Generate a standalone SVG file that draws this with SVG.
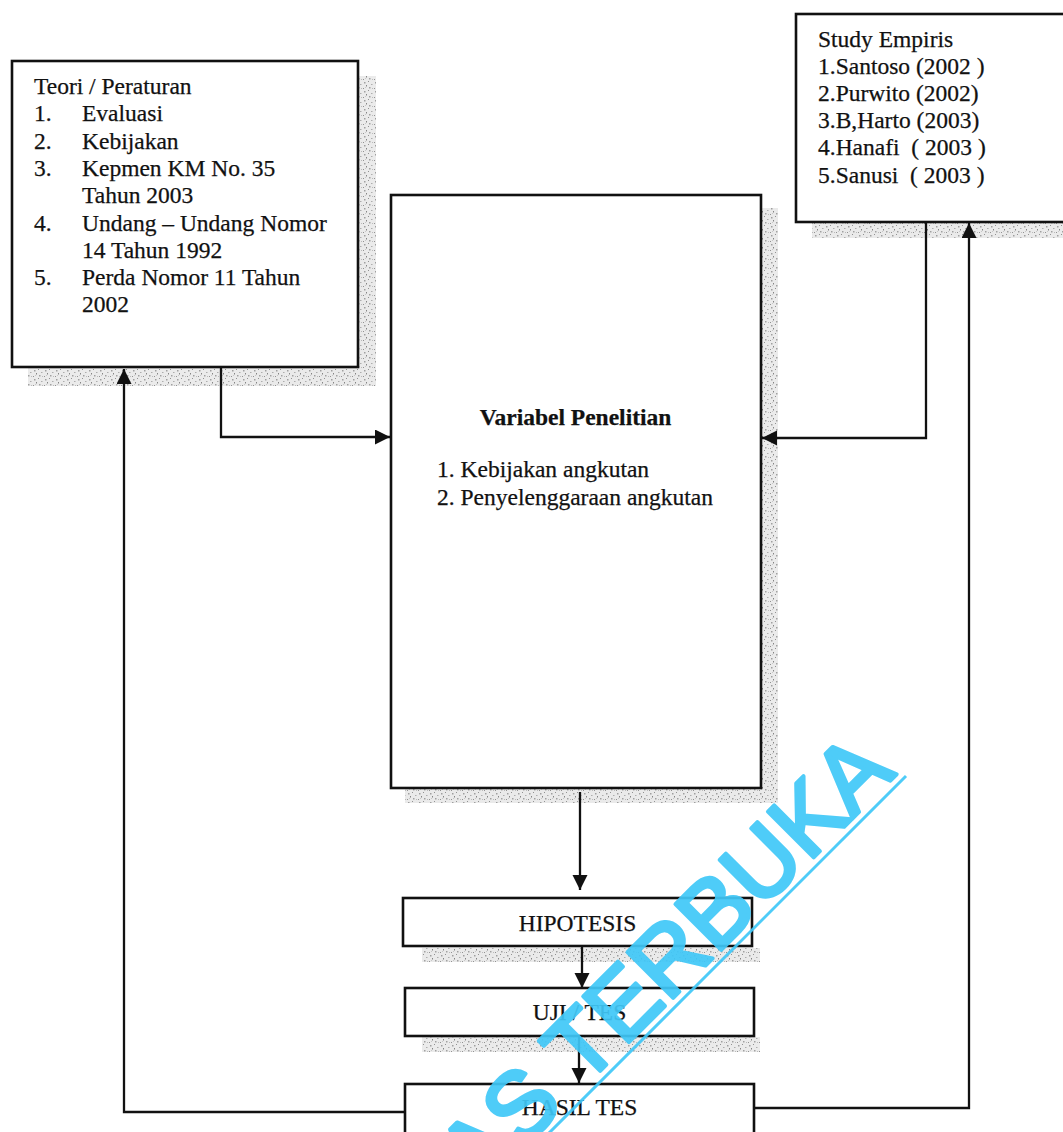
<svg xmlns="http://www.w3.org/2000/svg" width="1063" height="1132" viewBox="0 0 1063 1132">
<style>
.box{fill:#fff;stroke:#111;stroke-width:2.6}
.t{font-family:"Liberation Serif","Times New Roman",serif;font-size:23.5px;fill:#111;stroke:#111;stroke-width:0.25}
.b{font-weight:bold}
.c{text-anchor:middle}
.conn{fill:none;stroke:#111;stroke-width:2.3}
.shadow{fill:url(#speck)}
.wm{font-family:"Liberation Sans",Arial,sans-serif;font-size:94px;fill:#40C8F8;stroke:#40C8F8;stroke-width:4;stroke-linejoin:round}
</style>
<defs>
<pattern id="speck" width="11" height="9" patternUnits="userSpaceOnUse">
<rect width="11" height="9" fill="#e6e6e6"/>
<rect x="1" y="1" width="1.5" height="1.5" fill="#888"/>
<rect x="5" y="0" width="1" height="1" fill="#777"/>
<rect x="8" y="3" width="1.5" height="1" fill="#999"/>
<rect x="3" y="4" width="1" height="1.5" fill="#666"/>
<rect x="6" y="6" width="1.5" height="1.5" fill="#8a8a8a"/>
<rect x="0" y="7" width="1" height="1" fill="#777"/>
<rect x="9" y="7" width="1" height="1" fill="#aaa"/>
<rect x="2" y="6" width="1" height="1" fill="#bbb"/>
</pattern>
<marker id="arr" markerUnits="userSpaceOnUse" markerWidth="16" markerHeight="16" refX="15" refY="7.5" orient="auto">
<path d="M0,0 L15,7.5 L0,15 Z" fill="#111"/>
</marker>
</defs>
<rect width="1063" height="1132" fill="#fff"/>
<g id="shadows" opacity="0.8">
<rect class="shadow" x="359" y="76" width="17" height="310"/>
<rect class="shadow" x="28" y="368" width="348" height="18"/>
<rect class="shadow" x="812" y="222" width="251" height="16"/>
<rect class="shadow" x="761" y="208" width="17" height="595"/>
<rect class="shadow" x="405" y="789" width="373" height="14"/>
<rect class="shadow" x="422" y="948" width="338" height="14"/>
<rect class="shadow" x="422" y="1037" width="338" height="15"/>
</g>
<g id="connectors">
<path class="conn" d="M221,368 V437 H390" marker-end="url(#arr)"/>
<path class="conn" d="M926,222 V438 H762" marker-end="url(#arr)"/>
<path class="conn" d="M580,792 V890" marker-end="url(#arr)"/>
<path class="conn" d="M582,947 V988" marker-end="url(#arr)"/>
<path class="conn" d="M579,1036 V1083" marker-end="url(#arr)"/>
<path class="conn" d="M404,1112 H124 V369" marker-end="url(#arr)"/>
<path class="conn" d="M754,1108 H969 V223" marker-end="url(#arr)"/>
</g>
<g id="teori">
<rect class="box" x="12" y="61" width="346" height="306"/>
<text class="t" x="34" y="94">Teori / Peraturan</text>
<text class="t" x="34" y="121.3">1.</text><text class="t" x="82" y="121.3">Evaluasi</text>
<text class="t" x="34" y="148.6">2.</text><text class="t" x="82" y="148.6">Kebijakan</text>
<text class="t" x="34" y="175.9">3.</text><text class="t" x="82" y="175.9">Kepmen KM No. 35</text>
<text class="t" x="82" y="203.2">Tahun 2003</text>
<text class="t" x="34" y="230.5">4.</text><text class="t" x="82" y="230.5">Undang – Undang Nomor</text>
<text class="t" x="82" y="257.8">14 Tahun 1992</text>
<text class="t" x="34" y="285.1">5.</text><text class="t" x="82" y="285.1">Perda Nomor 11 Tahun</text>
<text class="t" x="82" y="312.4">2002</text>
</g>
<g id="study">
<rect class="box" x="796" y="14" width="290" height="208"/>
<text class="t" x="818" y="47" xml:space="preserve">Study Empiris</text>
<text class="t" x="818" y="74" xml:space="preserve">1.Santoso (2002 )</text>
<text class="t" x="818" y="101" xml:space="preserve">2.Purwito (2002)</text>
<text class="t" x="818" y="128" xml:space="preserve">3.B,Harto (2003)</text>
<text class="t" x="818" y="155" xml:space="preserve">4.Hanafi  ( 2003 )</text>
<text class="t" x="818" y="182.5" xml:space="preserve">5.Sanusi  ( 2003 )</text>
</g>
<g id="variabel">
<rect class="box" x="391" y="195" width="370" height="593"/>
<text class="t b c" x="575.5" y="425">Variabel Penelitian</text>
<text class="t" x="437" y="477">1. Kebijakan angkutan</text>
<text class="t" x="437" y="505">2. Penyelenggaraan angkutan</text>
</g>
<g id="hipotesis">
<rect class="box" x="403" y="898" width="349" height="48"/>
<text class="t c" x="577.5" y="931">HIPOTESIS</text>
</g>
<g id="uji">
<rect class="box" x="405" y="988" width="349" height="48"/>
<text class="t c" x="579.5" y="1020">UJI / TES</text>
</g>
<g id="hasil">
<rect class="box" x="405" y="1084" width="349" height="60"/>
<text class="t c" x="579.5" y="1115">HASIL TES</text>
</g>
<g id="watermark" opacity="0.92">
<text class="wm" transform="translate(477,1194) rotate(-45)">AS TERBUKA</text>
<line x1="906" y1="776" x2="540" y2="1142" stroke="#40C8F8" stroke-width="3"/>
</g>
</svg>
